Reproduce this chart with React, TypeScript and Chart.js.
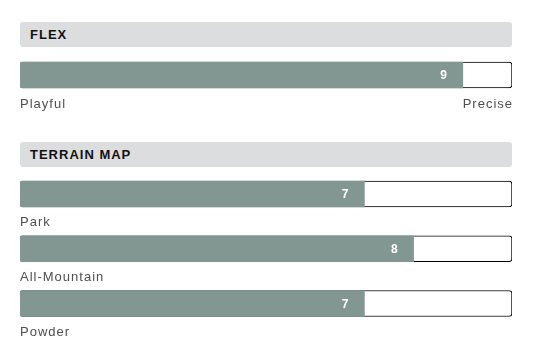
import React, { useEffect, useRef } from "react";
import { Chart, registerables } from "chart.js";

Chart.register(...registerables);

const maxValue = 10;
const flexTitle = "FLEX";
const flexCategories = ["Flex"];
const flexValues = [9];
const flexScaleLabels = ["Playful", "Precise"];
const terrainTitle = "TERRAIN MAP";
const terrainCategories = ["Park", "All-Mountain", "Powder"];
const terrainValues = [7, 8, 7];

const FILL = "#839792";
const HEADER_BG = "#dcdddf";
const LABEL_COLOR = "#4f4f4f";
const FONT = "'Liberation Sans', Arial, Helvetica, sans-serif";

type Mode = "flex" | "terrain";

function makeLabelPlugin(mode: Mode, subLabels: string[]) {
  return {
    id: "barLabels",
    afterDatasetsDraw(chart: any) {
      const ctx = chart.ctx as CanvasRenderingContext2D;
      const meta = chart.getDatasetMeta(0);
      const area = chart.chartArea;
      const values = chart.data.datasets[0].data as number[];
      ctx.save();
      meta.data.forEach((bar: any, i: number) => {
        // value label
        ctx.font = `bold 12px ${FONT}`;
        (ctx as any).letterSpacing = "0px";
        ctx.fillStyle = "#ffffff";
        ctx.textAlign = "right";
        ctx.textBaseline = "middle";
        ctx.fillText(String(values[i]), bar.x - 16, bar.y + 1);
        // sub labels
        ctx.font = `13px ${FONT}`;
        (ctx as any).letterSpacing = "1px";
        ctx.fillStyle = LABEL_COLOR;
        ctx.textBaseline = "alphabetic";
        const baseY = bar.y + bar.height / 2 + 19.5;
        if (mode === "flex") {
          ctx.textAlign = "left";
          ctx.fillText(subLabels[0], area.left, baseY);
          ctx.textAlign = "right";
          ctx.fillText(subLabels[1], area.right + 1, baseY);
        } else {
          ctx.textAlign = "left";
          ctx.fillText(subLabels[i], area.left, baseY);
        }
      });
      ctx.restore();
    },
  };
}

function BarChart(props: {
  categories: string[];
  values: number[];
  mode: Mode;
  subLabels: string[];
  top: number;
  height: number;
  padTop: number;
  padBottom: number;
}) {
  const ref = useRef<HTMLCanvasElement | null>(null);
  useEffect(() => {
    if (!ref.current) return;
    const chart = new Chart(ref.current, {
      type: "bar",
      data: {
        labels: props.categories,
        datasets: [
          {
            data: props.values,
            backgroundColor: FILL,
            borderWidth: 0,
            borderSkipped: false,
            borderRadius: { topLeft: 3, bottomLeft: 3, topRight: 0, bottomRight: 0 },
            barThickness: 26,
            grouped: false,
            order: 0,
          },
          {
            data: props.categories.map(() => maxValue),
            backgroundColor: "#ffffff",
            borderColor: "#000000",
            borderWidth: 1,
            borderSkipped: false,
            borderRadius: 3,
            barThickness: 26,
            grouped: false,
            order: 1,
          },
        ],
      } as any,
      options: {
        indexAxis: "y",
        animation: false,
        responsive: false,
        maintainAspectRatio: false,
        devicePixelRatio: 1,
        layout: { padding: { left: 20, right: 23, top: props.padTop, bottom: props.padBottom } },
        plugins: { legend: { display: false }, tooltip: { enabled: false } },
        scales: {
          x: { display: false, min: 0, max: maxValue },
          y: { display: false },
        },
      } as any,
      plugins: [makeLabelPlugin(props.mode, props.subLabels)],
    });
    return () => chart.destroy();
  }, []);
  return (
    <canvas
      ref={ref}
      width={535}
      height={props.height}
      style={{ position: "absolute", left: 0, top: props.top, width: 535, height: props.height }}
    />
  );
}

function Header(props: { title: string; top: number }) {
  return (
    <div
      style={{
        position: "absolute",
        left: 20,
        top: props.top,
        width: 492,
        height: 25,
        background: HEADER_BG,
        borderRadius: 3,
        boxSizing: "border-box",
        paddingLeft: 10,
        fontFamily: FONT,
        fontWeight: "bold",
        fontSize: 13,
        letterSpacing: "1px",
        lineHeight: "25px",
        color: "#111111",
      }}
    >
      {props.title}
    </div>
  );
}

export default function App() {
  return (
    <div style={{ position: "absolute", left: 0, top: 0, width: 535, height: 352, background: "#ffffff" }}>
      <Header title={flexTitle} top={22} />
      <BarChart
        categories={flexCategories}
        values={flexValues}
        mode="flex"
        subLabels={flexScaleLabels}
        top={55}
        height={60}
        padTop={0}
        padBottom={20}
      />
      <Header title={terrainTitle} top={142} />
      <BarChart
        categories={terrainCategories}
        values={terrainValues}
        mode="terrain"
        subLabels={terrainCategories}
        top={160}
        height={180}
        padTop={6.6}
        padBottom={9.15}
      />
    </div>
  );
}
